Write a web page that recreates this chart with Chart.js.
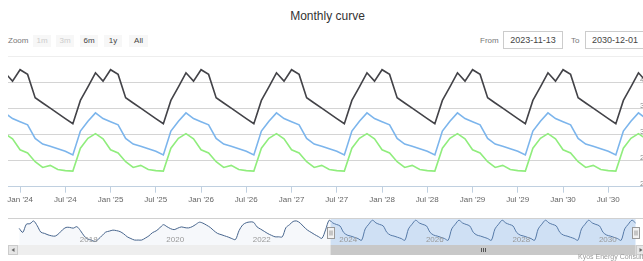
<!DOCTYPE html>
<html lang="en">
<head>
<meta charset="UTF-8">
<title>Monthly curve</title>
<script src="https://cdn.jsdelivr.net/npm/chart.js"></script>
<style>
  html, body { margin: 0; padding: 0; background: #fff; overflow: hidden; }
  body { width: 643px; height: 261px; position: relative; font-family: "Liberation Sans", Arial, sans-serif; }
  .abs { position: absolute; white-space: nowrap; }
  #title { left: 0; width: 655px; top: 9px; text-align: center; font-size: 12px; color: #333; }
  .lbl { top: 35px; font-size: 8px; color: #777; line-height: 12px; }
  .btn { top: 35px; height: 12px; line-height: 12px; width: 18px; background: #f7f7f7; font-size: 8px; color: #444; text-align: center; }
  .btn.off { color: #ccc; }
  .box { top: 31px; width: 58px; height: 16px; border: 1px solid #ccc; font-size: 9px; line-height: 16px; color: #444; text-align: center; }
  #credit { left: 578px; top: 253px; font-size: 7px; color: #999; }
  #mainWrap { left: 0; top: 0; }
  #navWrap { left: 0; top: 205px; }
</style>
</head>
<body>

<div id="title" class="abs">Monthly curve</div>
<div class="abs lbl" style="left:8px">Zoom</div>
<div class="abs btn off" style="left:33px">1m</div>
<div class="abs btn off" style="left:56px">3m</div>
<div class="abs btn" style="left:80px">6m</div>
<div class="abs btn" style="left:104px">1y</div>
<div class="abs btn" style="left:129px;width:19px">All</div>
<div class="abs lbl" style="left:480px">From</div>
<div class="abs box" style="left:503px">2023-11-13</div>
<div class="abs lbl" style="left:571px">To</div>
<div class="abs box" style="left:585px">2030-12-01</div>

<div id="mainWrap" class="abs"><canvas id="mainChart" width="660" height="215"></canvas></div>
<div id="navWrap" class="abs"><canvas id="navChart" width="660" height="56"></canvas></div>
<div id="credit" class="abs">Kyos Energy Consulting</div>

<script>
    // first month of the series and the visible range
    const startMonth = '2023-11';
    const viewFrom = '2023-11-13';
    const viewTo = '2030-12-01';

    // monthly values, Nov 2023 .. Dec 2030
    const blackSeries = [
        41.9, 40.3,
        42.5, 41.6, 37.1, 36.1, 35.1, 34.1, 33.1, 32.1, 36.6, 39.2, 41.9, 40.3,
        42.5, 41.6, 37.1, 36.1, 35.1, 34.1, 33.1, 32.1, 36.6, 39.2, 41.9, 40.3,
        42.5, 41.6, 37.1, 36.1, 35.1, 34.1, 33.1, 32.1, 36.6, 39.2, 41.9, 40.3,
        42.5, 41.6, 37.1, 36.1, 35.1, 34.1, 33.1, 32.1, 36.6, 39.2, 41.9, 40.3,
        42.5, 41.6, 37.1, 36.1, 35.1, 34.1, 33.1, 32.1, 36.6, 39.2, 41.9, 40.3,
        42.5, 41.6, 37.1, 36.1, 35.1, 34.1, 33.1, 32.1, 36.6, 39.2, 41.9, 40.3,
        42.5, 41.6, 37.1, 36.1, 35.1, 34.1, 33.1, 32.1, 36.6, 39.2, 41.9, 40.3
    ];
    const blueSeries = [
        34.2, 33.1,
        32.5, 31.9, 29.3, 28.2, 27.8, 27.3, 26.8, 26.1, 30.7, 32.6, 34.2, 33.1,
        32.5, 31.9, 29.3, 28.2, 27.8, 27.3, 26.8, 26.1, 30.7, 32.6, 34.2, 33.1,
        32.5, 31.9, 29.3, 28.2, 27.8, 27.3, 26.8, 26.1, 30.7, 32.6, 34.2, 33.1,
        32.5, 31.9, 29.3, 28.2, 27.8, 27.3, 26.8, 26.1, 30.7, 32.6, 34.2, 33.1,
        32.5, 31.9, 29.3, 28.2, 27.8, 27.3, 26.8, 26.1, 30.7, 32.6, 34.2, 33.1,
        32.5, 31.9, 29.3, 28.2, 27.8, 27.3, 26.8, 26.1, 30.7, 32.6, 34.2, 33.1,
        32.5, 31.9, 29.3, 28.2, 27.8, 27.3, 26.8, 26.1, 30.7, 32.6, 34.2, 33.1
    ];
    const greenSeries = [
        30.2, 29.2,
        27.1, 26.5, 24.8, 23.7, 24.1, 23.3, 23.1, 23.0, 27.4, 29.3, 30.2, 29.2,
        27.1, 26.5, 24.8, 23.7, 24.1, 23.3, 23.1, 23.0, 27.4, 29.3, 30.2, 29.2,
        27.1, 26.5, 24.8, 23.7, 24.1, 23.3, 23.1, 23.0, 27.4, 29.3, 30.2, 29.2,
        27.1, 26.5, 24.8, 23.7, 24.1, 23.3, 23.1, 23.0, 27.4, 29.3, 30.2, 29.2,
        27.1, 26.5, 24.8, 23.7, 24.1, 23.3, 23.1, 23.0, 27.4, 29.3, 30.2, 29.2,
        27.1, 26.5, 24.8, 23.7, 24.1, 23.3, 23.1, 23.0, 27.4, 29.3, 30.2, 29.2,
        27.1, 26.5, 24.8, 23.7, 24.1, 23.3, 23.1, 23.0, 27.4, 29.3, 30.2, 29.2
    ];

    // x axis tick labels
    const xTickDates = ['2024-01', '2024-07', '2025-01', '2025-07', '2026-01', '2026-07', '2027-01',
        '2027-07', '2028-01', '2028-07', '2029-01', '2029-07', '2030-01', '2030-07'];
    const xTickLabels = ["Jan '24", "Jul '24", "Jan '25", "Jul '25", "Jan '26", "Jul '26", "Jan '27",
        "Jul '27", "Jan '28", "Jul '28", "Jan '29", "Jul '29", "Jan '30", "Jul '30"];

    // navigator: history Sep 2016 .. Oct 2023, followed by the blue series
    const navStart = '2016-09';
    const navHistory = [
        30.9, 29.3, 32.6, 32.8, 33.9, 32.0, 29.4, 28.9, 28.3, 27.9,
        27.8, 28.8, 30.3, 31.3, 31.3, 31.0, 31.6, 30.0, 27.9, 26.6,
        26.2, 25.6, 26.6, 28.0, 29.4, 29.8, 30.2, 30.0, 29.6, 28.7,
        27.5, 26.8, 26.2, 26.2, 26.2, 27.0, 27.9, 29.2, 29.9, 31.1,
        32.4, 31.6, 30.8, 30.4, 31.0, 31.5, 31.2, 31.1, 31.6, 32.5,
        33.4, 33.0, 32.2, 31.3, 30.0, 28.9, 28.4, 27.9, 27.4, 26.8,
        26.4, 30.0, 32.3, 33.2, 33.5, 33.4, 31.5, 30.6, 29.7, 28.8,
        28.1, 27.5, 27.5, 27.5, 31.2, 32.4, 33.7, 33.9, 33.0, 31.5,
        30.2, 29.3, 28.4, 27.6, 26.9, 30.3
    ];
    const navFrom = '2016-05-28';
    const navTo = '2031-02-28';
    const navYearDates = ['2018-01', '2020-01', '2022-01', '2024-01', '2026-01', '2028-01', '2030-01'];
    const navYearLabels = ['2018', '2020', '2022', '2024', '2026', '2028', '2030'];

    // months since Jan 2024 (days give a fraction of the month)
    const monthNum = (s) => {
        const p = s.split('-').map(Number);
        const m = (p[0] - 2024) * 12 + (p[1] - 1);
        return p.length > 2 ? m + (p[2] - 1) / 30 : m;
    };
    const toPoints = (start, values) => values.map((v, i) => ({ x: monthNum(start) + i, y: v }));

    Chart.defaults.font.family = '"Liberation Sans", Arial, sans-serif';
    Chart.defaults.animation = false;

    const lineSet = (data, color) => ({
        data: toPoints(startMonth, data),
        borderColor: color,
        borderWidth: 1.6,
        pointRadius: 0,
        tension: 0,
        clip: 0
    });

    new Chart(document.getElementById('mainChart'), {
        type: 'line',
        data: {
            datasets: [
                lineSet(blueSeries, '#7cb5ec'),
                lineSet(blackSeries, '#434348'),
                lineSet(greenSeries, '#90ed7d')
            ]
        },
        options: {
            responsive: false,
            layout: { padding: { top: 56.7, left: 8, right: 14, bottom: 5 } },
            plugins: { legend: { display: false }, tooltip: { enabled: false } },
            scales: {
                x: {
                    type: 'linear',
                    min: monthNum(viewFrom),
                    max: monthNum(viewTo),
                    afterBuildTicks: (s) => { s.ticks = xTickDates.map(d => ({ value: monthNum(d) })); },
                    afterFit: (s) => { s.height = 23.3; },
                    grid: { drawOnChartArea: false, tickLength: 6, color: '#c0d0e0' },
                    border: { color: '#c0d0e0' },
                    ticks: {
                        autoSkip: false, maxRotation: 0, padding: 2, color: '#666',
                        font: { size: 8 },
                        callback: (v, i) => xTickLabels[i]
                    }
                },
                y: {
                    position: 'right',
                    min: 20,
                    max: 45,
                    afterFit: (s) => { s.width = 0; },
                    grid: { drawTicks: false, color: (c) => c.tick && c.tick.value === 45 ? '#eeeeee' : '#d4d4d4' },
                    border: { display: false },
                    ticks: {
                        stepSize: 5, mirror: true, padding: 3, labelOffset: -3, color: '#888',
                        font: { size: 8 },
                        callback: (v) => v === 45 ? '' : v
                    }
                }
            }
        }
    });

    // mask, handles, year labels and scrollbar of the navigator
    const navDecor = {
        id: 'navDecor',
        afterDatasetsDraw(chart) {
            const { ctx, chartArea: a, scales: { x } } = chart;
            const x1 = x.getPixelForValue(monthNum(viewFrom));
            const x2 = x.getPixelForValue(monthNum(viewTo));
            ctx.save();
            ctx.fillStyle = 'rgba(120,170,230,0.3)';
            ctx.fillRect(x1, a.top, x2 - x1, a.bottom - a.top);

            ctx.strokeStyle = '#d0d0d0';
            ctx.lineWidth = 1;
            ctx.beginPath();
            ctx.moveTo(a.left, a.top + 0.5);
            ctx.lineTo(a.right, a.top + 0.5);
            ctx.stroke();

            ctx.font = '8px "Liberation Sans", Arial, sans-serif';
            ctx.fillStyle = '#999';
            ctx.textAlign = 'left';
            ctx.textBaseline = 'middle';
            navYearDates.forEach((d, i) => {
                ctx.fillText(navYearLabels[i], x.getPixelForValue(monthNum(d)) + 3, a.top + 21.5);
            });

            [x1, x2].forEach(px => {
                const hx = Math.round(px) - 3.5, hy = a.top + 9.5;
                ctx.fillStyle = '#f2f2f2';
                ctx.strokeStyle = '#999';
                ctx.fillRect(hx, hy, 7, 11);
                ctx.strokeRect(hx, hy, 7, 11);
                ctx.beginPath();
                ctx.moveTo(hx + 2.5, hy + 3); ctx.lineTo(hx + 2.5, hy + 8);
                ctx.moveTo(hx + 4.5, hy + 3); ctx.lineTo(hx + 4.5, hy + 8);
                ctx.stroke();
            });

            // scrollbar
            const sy = a.bottom, sh = 10;
            ctx.fillStyle = '#eeeeee';
            ctx.fillRect(a.left, sy, a.right - a.left, sh);
            ctx.fillStyle = '#c8c8c8';
            ctx.fillRect(x1, sy, x2 - x1, sh);
            ctx.strokeStyle = '#555';
            const gx = Math.round((x1 + x2) / 2) + 0.5;
            ctx.beginPath();
            [-2, 0, 2].forEach(o => { ctx.moveTo(gx + o, sy + 3); ctx.lineTo(gx + o, sy + 7); });
            ctx.stroke();
            [[a.left, 1], [a.right - 10, -1]].forEach(([bx, dir]) => {
                ctx.fillStyle = '#e6e6e6';
                ctx.strokeStyle = '#cccccc';
                ctx.fillRect(bx, sy, 10, sh);
                ctx.strokeRect(bx + 0.5, sy + 0.5, 9, sh - 1);
                ctx.fillStyle = '#666';
                ctx.beginPath();
                const cx = bx + 5, cy = sy + sh / 2;
                ctx.moveTo(cx - 1.5 * dir, cy);
                ctx.lineTo(cx + 1.5 * dir, cy - 2);
                ctx.lineTo(cx + 1.5 * dir, cy + 2);
                ctx.closePath();
                ctx.fill();
            });
            ctx.restore();
        }
    };

    new Chart(document.getElementById('navChart'), {
        type: 'line',
        data: {
            datasets: [{
                data: toPoints(navStart, navHistory.concat(blueSeries)),
                borderColor: '#46648c',
                backgroundColor: 'rgba(69,114,167,0.05)',
                fill: 'start',
                borderWidth: 1,
                pointRadius: 0,
                tension: 0.3
            }]
        },
        options: {
            responsive: false,
            layout: { padding: { top: 13, left: 8, right: 14, bottom: 16 } },
            plugins: { legend: { display: false }, tooltip: { enabled: false } },
            scales: {
                x: { type: 'linear', display: false, min: monthNum(navFrom), max: monthNum(navTo) },
                y: { display: false, min: 24.2, max: 35.1 }
            }
        },
        plugins: [navDecor]
    });
</script>

</body>
</html>
